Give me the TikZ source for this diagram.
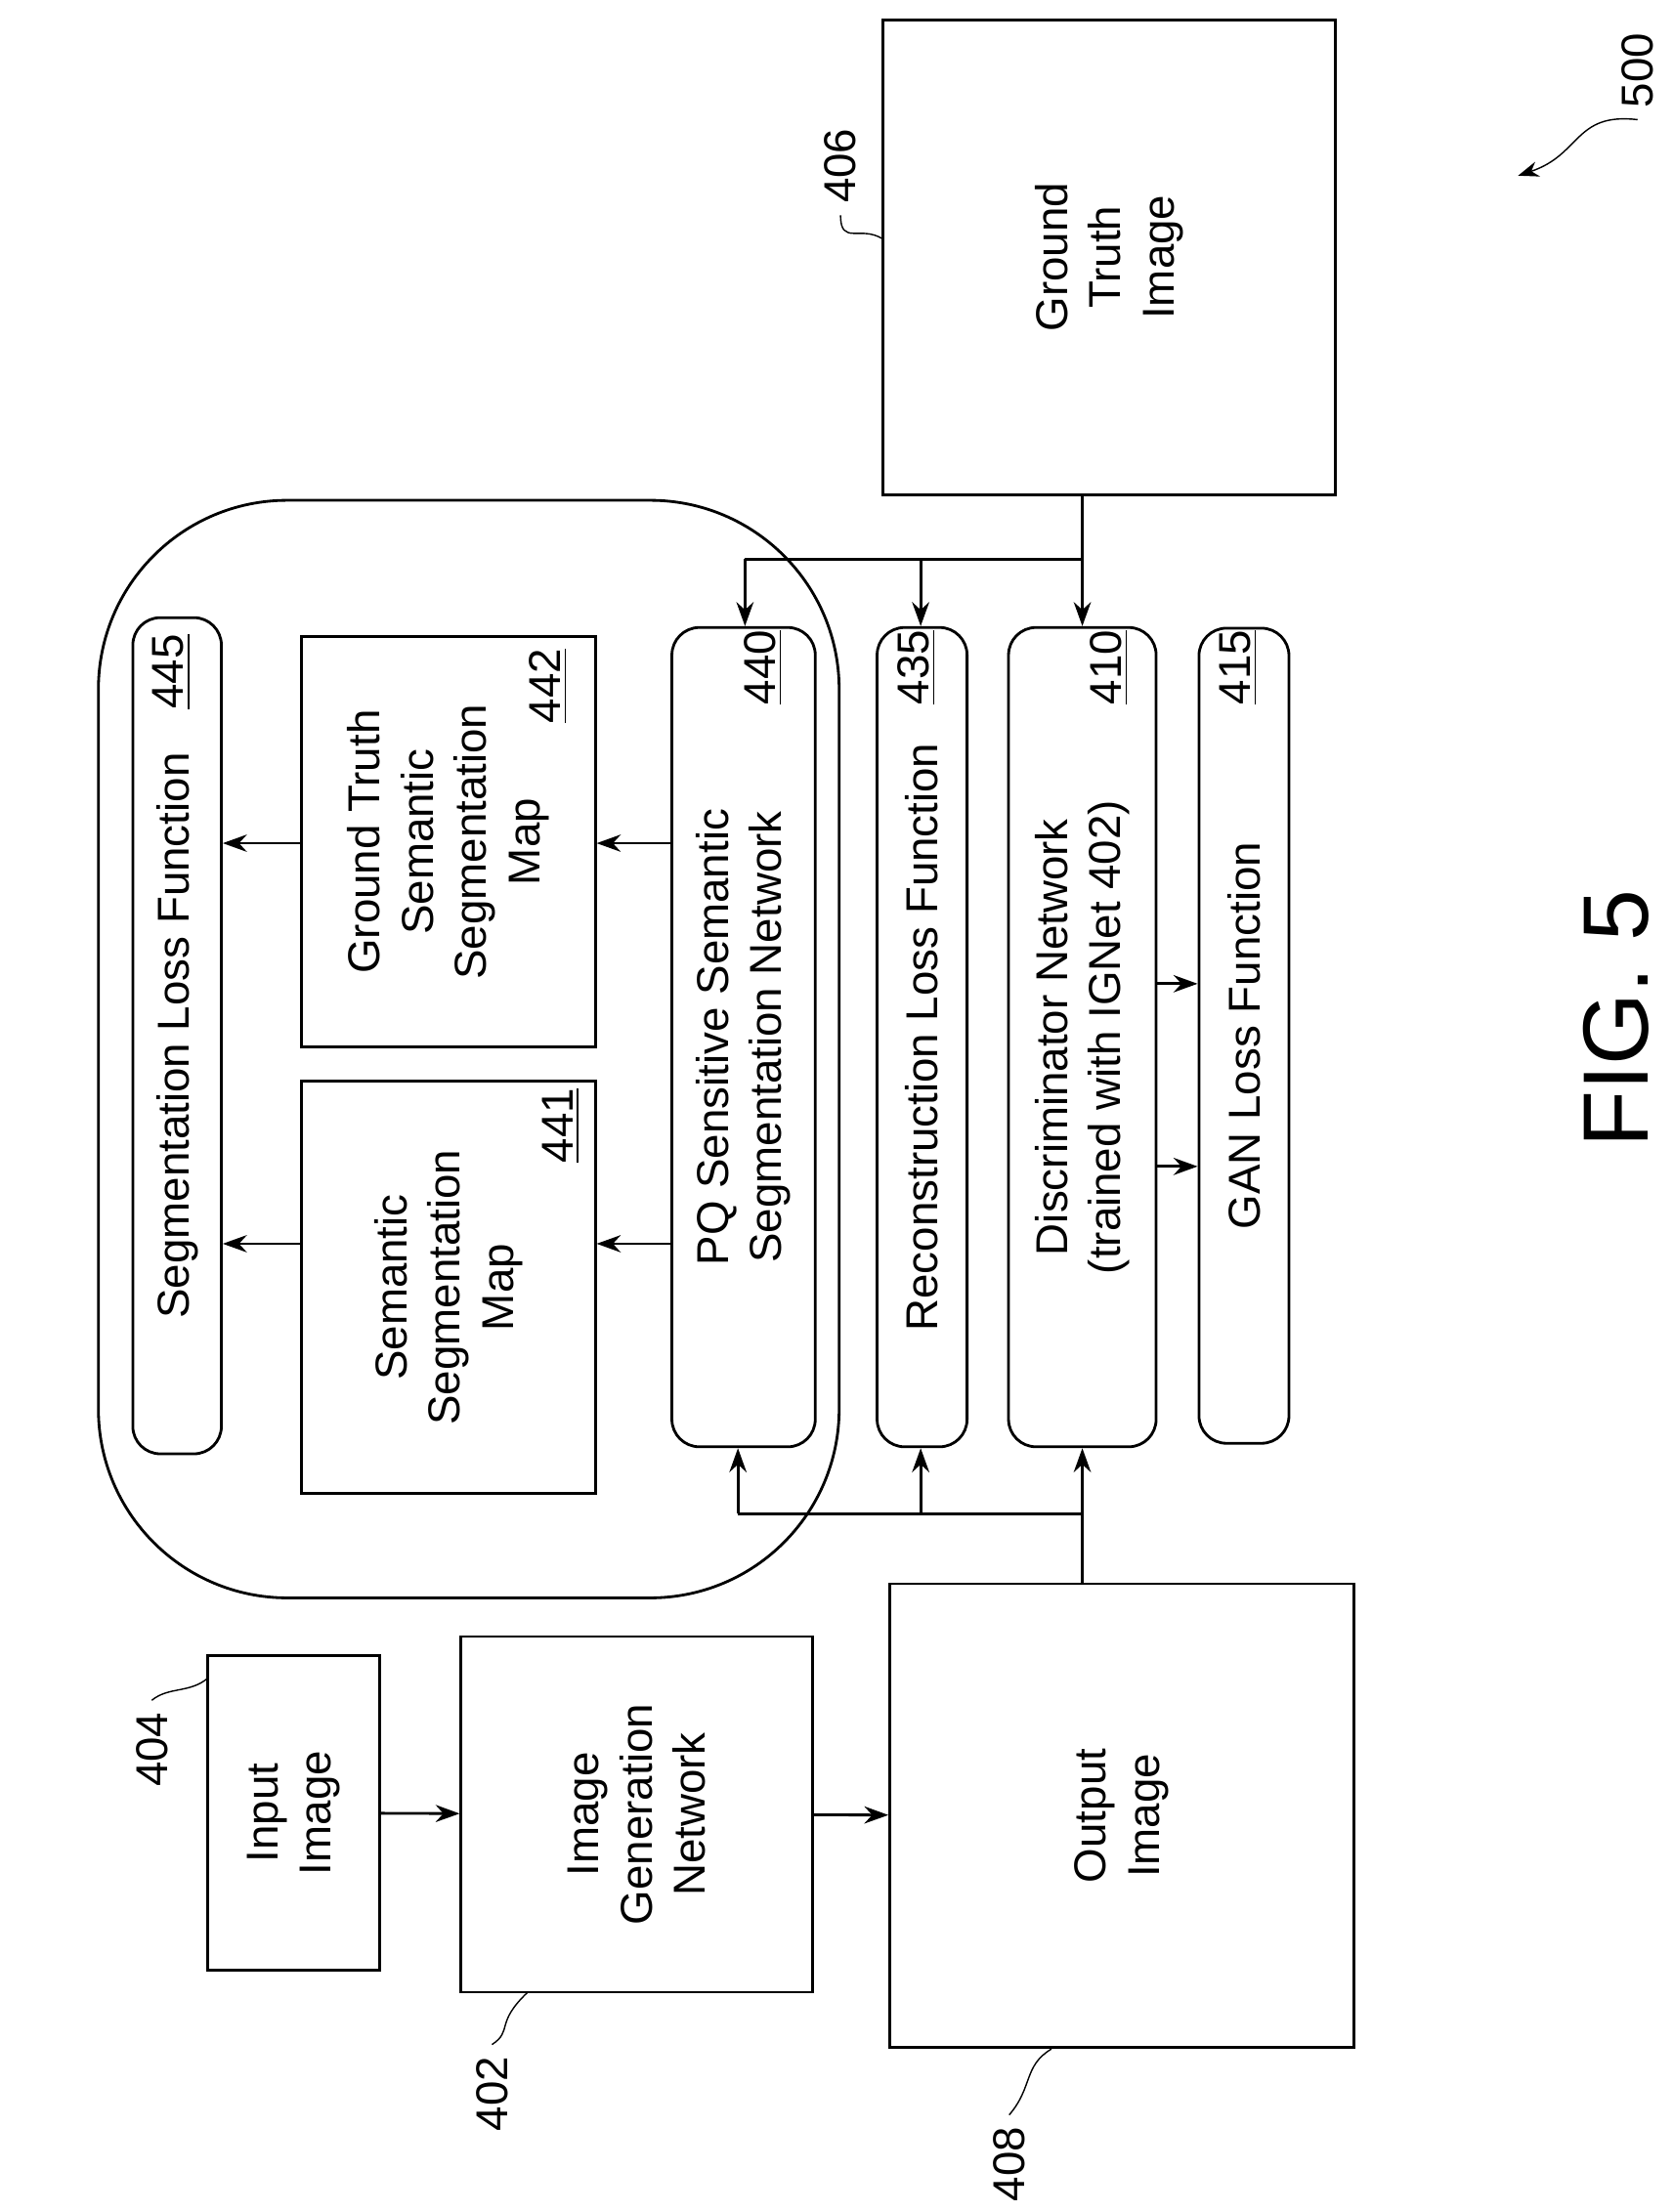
\documentclass[tikz,border=0pt]{standalone}
\usepackage{fontspec}
\setmainfont{Liberation Sans}
\usetikzlibrary{arrows.meta}
\begin{document}
\begin{tikzpicture}[x=0.1438mm,y=-0.1438mm,
  every node/.style={font=\fontsize{13}{15.5}\selectfont},
  blk/.style={draw,thick,rotate=90,align=center,inner sep=0pt},
  rblk/.style={blk,rounded corners=8},
  num/.style={rotate=90},
  arr/.style={-{Stealth[length=7pt,width=5pt]},thick},
  sq/.style={thin}]
\useasboundingbox (0,0) rectangle (1190,1574);
% outer group
\draw[thick,rounded corners=55] (70,356) rectangle (597,1137);
% boxes
\node[blk,minimum width=338*0.1438mm,minimum height=322*0.1438mm] (gti) at (789,183) {Ground\\Truth\\Image};
\node[rblk,minimum width=595*0.1438mm,minimum height=63*0.1438mm] (slf) at (126,737) {Segmentation Loss Function};
\node[blk,minimum width=292*0.1438mm,minimum height=209*0.1438mm] (gtm) at (319,599) {Ground Truth\\Semantic\\Segmentation\\Map};
\node[blk,minimum width=293*0.1438mm,minimum height=209*0.1438mm] (ssm) at (319,916) {Semantic\\Segmentation\\Map};
\node[rblk,minimum width=583*0.1438mm,minimum height=102*0.1438mm] (pq) at (529,738) {PQ Sensitive Semantic\\Segmentation Network};
\node[rblk,minimum width=583*0.1438mm,minimum height=64*0.1438mm] (rlf) at (656,738) {Reconstruction Loss Function};
\node[rblk,minimum width=583*0.1438mm,minimum height=105*0.1438mm] (dn) at (770,738) {Discriminator Network\\(trained with IGNet 402)};
\node[rblk,minimum width=580*0.1438mm,minimum height=64*0.1438mm] (glf) at (885,737) {GAN Loss Function};
\node[blk,minimum width=330*0.1438mm,minimum height=330*0.1438mm] (oi) at (798,1292) {Output\\Image};
\node[blk,minimum width=224*0.1438mm,minimum height=122*0.1438mm] (ii) at (209,1290) {Input\\Image};
\node[blk,minimum width=253*0.1438mm,minimum height=250*0.1438mm] (ign) at (453,1291) {Image\\Generation\\Network};
% numbers
\node[num] (n445) at (122,478) {\underline{445}};
\node[num] (n442) at (390,488) {\underline{442}};
\node[num] (n441) at (399,801) {\underline{441}};
\node[num] (n440) at (543,475) {\underline{440}};
\node[num] (n435) at (652,475) {\underline{435}};
\node[num] (n410) at (789,475) {\underline{410}};
\node[num] (n415) at (881,475) {\underline{415}};
\node[font=\fontsize{27}{30}\selectfont,rotate=90] (fig) at (1150,725) {FIG. 5};
% reference labels
\node[num] (l500) at (1165,50) {500};
\node[num] (l406) at (598,118) {406};
\node[num] (l404) at (108,1245) {404};
\node[num] (l402) at (350,1490) {402};
\node[num] (l408) at (718,1540) {408};
\draw[sq,-{Stealth[length=6pt]}] (l500.west) .. controls (1120,80) and (1125,110) .. (1080,125);
\draw[sq] (l406.west) .. controls (598,175) and (612,160) .. (628,170);
\draw[sq] (l404.east) .. controls (120,1200) and (135,1205) .. (148,1194);
\draw[sq] (l402.east) .. controls (365,1445) and (352,1440) .. (375,1418);
\draw[sq] (l408.east) .. controls (735,1485) and (728,1470) .. (748,1458);
% main flow
\draw[arr] (ii) -- (ign);
\draw[arr] (ign) -- (oi);
\draw[arr] (pq.north |- 0,600) -- (gtm.south |- 0,600);
\draw[arr] (pq.north |- 0,885) -- (ssm.south |- 0,885);
\draw[arr] (gtm.north |- 0,600) -- (slf.south |- 0,600);
\draw[arr] (ssm.north |- 0,885) -- (slf.south |- 0,885);
\draw[arr] (dn.south |- 0,700) -- (glf.north |- 0,700);
\draw[arr] (dn.south |- 0,830) -- (glf.north |- 0,830);
% ground truth image distribution
\draw[arr] (gti.west -| 770,0) -- (dn.east -| 770,0);
\draw[thick] (770,398) -- (530,398);
\draw[arr] (655,398) -- (rlf.east -| 655,0);
\draw[arr] (530,398) -- (pq.east -| 530,0);
% output image distribution
\draw[arr] (oi.east -| 770,0) -- (dn.west -| 770,0);
\draw[thick] (770,1077) -- (525,1077);
\draw[arr] (655,1077) -- (rlf.west -| 655,0);
\draw[arr] (525,1077) -- (pq.west -| 525,0);
\end{tikzpicture}
\end{document}
